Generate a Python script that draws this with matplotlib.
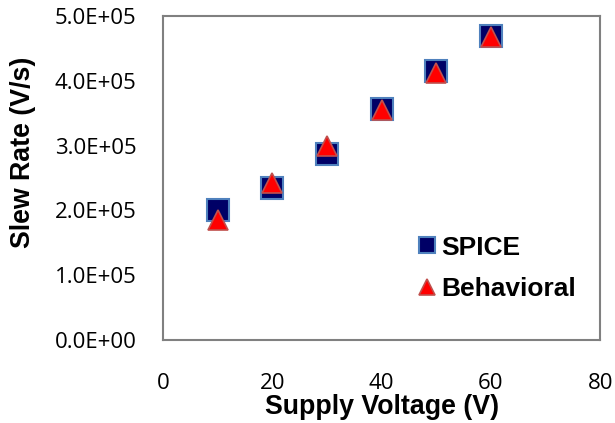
import matplotlib
matplotlib.use("Agg")
import matplotlib.pyplot as plt

# Data
voltage = [10, 20, 30, 40, 50, 60]
spice = [2.00e5, 2.34e5, 2.87e5, 3.56e5, 4.15e5, 4.70e5]
behavioral = [1.86e5, 2.42e5, 2.99e5, 3.55e5, 4.12e5, 4.68e5]
xticks = [0, 20, 40, 60, 80]
yticks = [0, 1e5, 2e5, 3e5, 4e5, 5e5]

fig = plt.figure(figsize=(6.15, 4.23), dpi=100)
ax = fig.add_axes([0.265, 0.196, 0.711, 0.766])

ax.plot(voltage, spice, linestyle='none', marker='s', markersize=16,
        markerfacecolor='#000066', markeredgecolor='#4F81BD', markeredgewidth=1.5,
        label='SPICE')
ax.plot(voltage, behavioral, linestyle='none', marker='^', markersize=14.5,
        markerfacecolor='#FF0000', markeredgecolor='#C0504D', markeredgewidth=1.2,
        label='Behavioral')

ax.set_xlim(0, 80)
ax.set_ylim(0, 5e5)
ax.set_xticks(xticks)
ax.set_yticks(yticks)
ax.set_xticklabels([str(v) for v in xticks], fontfamily='Open Sans', fontsize=16)
ax.set_yticklabels(['%.1fE+05' % (v / 1e5) if v else '0.0E+00' for v in yticks],
                   fontfamily='Open Sans', fontsize=16)
ax.tick_params(axis='x', length=0, pad=24)
ax.tick_params(axis='y', length=0, pad=19)

for s in ax.spines.values():
    s.set_color('#808080')
    s.set_linewidth(1.5)

ax.set_xlabel('Supply Voltage (V)', fontfamily='Liberation Sans', fontsize=19.3,
              fontweight='bold', labelpad=0)
ax.set_ylabel('Slew Rate (V/s)', fontfamily='Liberation Sans', fontsize=19.3,
              fontweight='bold')
ax.yaxis.set_label_coords(-0.29, 0.58)

leg = ax.legend(loc='center left', bbox_to_anchor=(0.528, 0.222), frameon=False,
                markerscale=0.75, handlelength=0.75, handletextpad=0.15,
                labelspacing=0.65,
                prop={'family': 'Liberation Sans', 'weight': 'bold', 'size': 19})

fig.savefig('out.png', dpi=100)
